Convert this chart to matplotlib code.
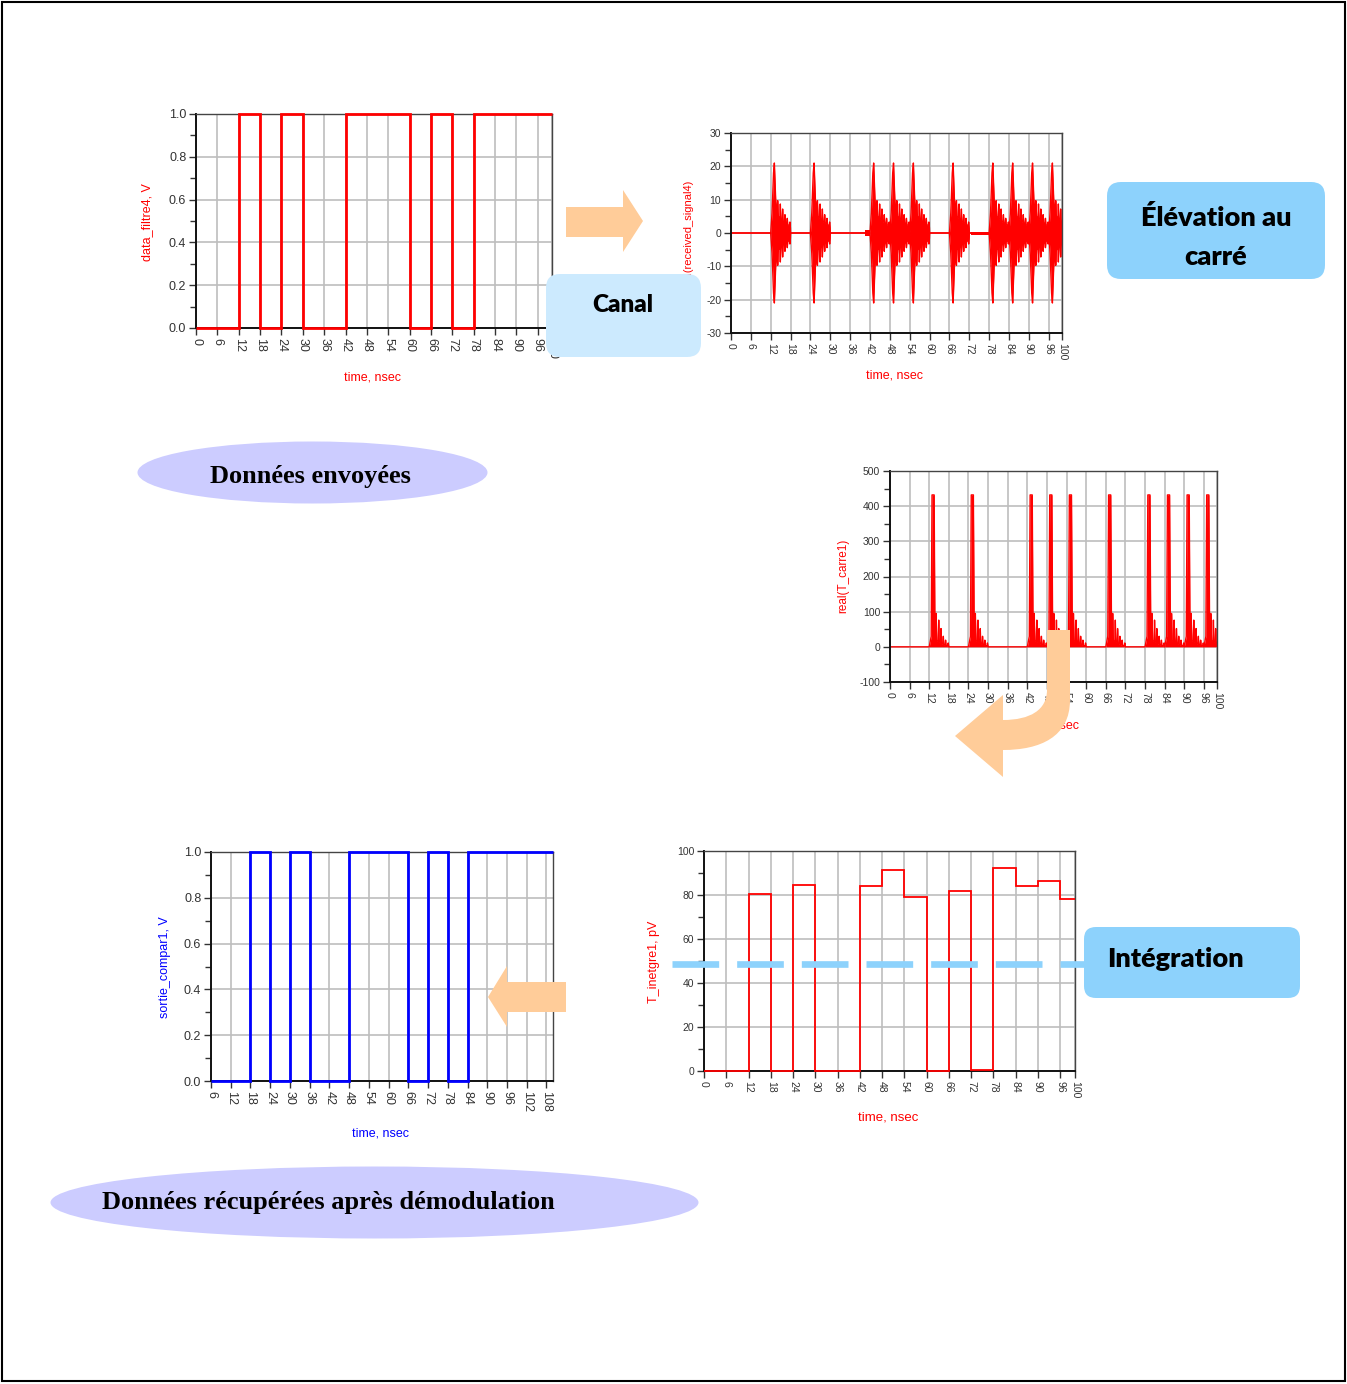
import numpy as np
import matplotlib
matplotlib.use("Agg")
import matplotlib.pyplot as plt
from matplotlib.patches import FancyBboxPatch, Ellipse, Polygon, PathPatch, Rectangle
from matplotlib.path import Path
from matplotlib.ticker import MultipleLocator

W, H = 1347, 1384
plt.rcParams['font.family'] = ['Liberation Sans', 'DejaVu Sans']
plt.rcParams['axes.unicode_minus'] = False

# --- data ---
# sent bits (data_filtre4), one bit every 6 ns
sent_edges = [0, 6, 12, 18, 24, 30, 36, 42, 48, 54, 60, 66, 72, 78, 84, 90, 96, 100]
sent_bits = [0, 0, 1, 0, 1, 0, 0, 1, 1, 1, 0, 1, 0, 1, 1, 1, 1]

# recovered bits (sortie_compar1), delayed by one bit
recov_edges = [6, 12, 18, 24, 30, 36, 42, 48, 54, 60, 66, 72, 78, 84, 90, 96, 102, 108, 110]
recov_bits = [0, 0, 1, 0, 1, 0, 0, 1, 1, 1, 0, 1, 0, 1, 1, 1, 1, 1]

# integrator output (T_inetgre1, pV)
integ_edges = [0, 6, 12, 18, 24, 30, 36, 42, 48, 54, 60, 66, 72, 78, 84, 90, 96, 100]
integ_vals = [0, 0, 80.3, 0, 84.6, 0, 0, 84.0, 91.3, 79.0, 0, 81.6, 0.3, 92.3, 84.0, 86.5, 78.2]
threshold = 48.5

# start of each RF burst (ns)
burst_starts = [12, 24, 42, 48, 54, 66, 78, 84, 90, 96]

# envelope of one received burst (offset in ns, amplitude)
rx_off = [0.0, 0.4, 0.85, 1.1, 1.5, 1.95, 2.1, 2.3, 2.75, 2.9, 3.05, 3.45, 3.6, 3.75,
          4.15, 4.3, 4.45, 4.85, 5.0, 5.15, 5.65, 5.8, 5.95, 6.0]
rx_amp = [0, 6, 18, 21, 10, 5, 9.7, 5, 4.5, 8.7, 4.2, 4, 7.2, 3.5,
          3.2, 5.5, 3, 2.8, 4.4, 2.5, 2.2, 3.3, 1.5, 0]

# one burst after squaring
sq_off = [0.0, 0.6, 0.85, 1.5, 1.75, 1.95, 2.1, 2.3, 2.75, 2.9, 3.05, 3.45, 3.6, 3.75,
          4.15, 4.3, 4.45, 4.85, 5.0, 5.15, 5.65, 5.8, 5.95, 6.0]
sq_val = [0, 30, 432, 432, 25, 20, 95, 18, 15, 76, 14, 12, 52, 10,
          8, 30, 7, 5, 19, 4, 3, 11, 2, 0]

# small leakage seen on the received signal: (start, end, amplitude)
leak_start = [40.6, 72.5]
leak_end = [42.0, 78.0]
leak_amp = [0.9, 0.45]

RED = '#FF0000'
BLUE = '#0000FF'
PEACH = '#FFCC99'
SKY = '#8DD2FC'
PALE = '#CCEAFE'
LAVENDER = '#CCCCFF'


def burst_series(offsets, values):
    t, v = [0.0], [0.0]
    for s in burst_starts:
        t += [s + o for o in offsets]
        v += list(values)
    return np.array(t), np.array(v)


fig = plt.figure(figsize=(W / 100, H / 100), dpi=100)
fig.patch.set_facecolor('white')


def px_axes(l, t, r, b):
    ax = fig.add_axes([l / W, 1 - b / H, (r - l) / W, (b - t) / H])
    ax._px = (l, t, r, b)
    return ax


def px_text(ax, x, y, s, **kw):
    l, t, r, b = ax._px
    ax.text((x - l) / (r - l), (b - y) / (b - t), s, transform=ax.transAxes,
            ha='center', va='center', **kw)


def style(ax, xlim, xticks, ylim, ymaj, ymin, fs, yfmt=None):
    ax.set_xlim(*xlim)
    ax.set_ylim(*ylim)
    ax.set_xticks(xticks)
    ax.yaxis.set_major_locator(MultipleLocator(ymaj))
    ax.yaxis.set_minor_locator(MultipleLocator(ymin))
    if yfmt:
        ax.yaxis.set_major_formatter(yfmt)
    ax.grid(True, which='major', color='#BEBEBE', lw=1.2)
    ax.set_axisbelow(True)
    ax.tick_params(which='both', direction='out', colors='#333333', width=1, labelsize=fs)
    ax.tick_params(which='major', length=5)
    ax.tick_params(which='minor', length=4)
    ax.tick_params(axis='x', labelrotation=-90, pad=2)
    ax.tick_params(axis='y', pad=2)
    for sp in ax.spines.values():
        sp.set_color('#444444')
        sp.set_linewidth(1.0)
    ax.spines['left'].set_color('#111111')
    ax.spines['bottom'].set_color('#111111')
    ax.spines['left'].set_linewidth(1.4)
    ax.spines['bottom'].set_linewidth(1.4)


ticks_100 = list(range(0, 97, 6)) + [100]

# 1) sent data
ax1 = px_axes(196, 114, 552, 328)
ax1.stairs(sent_bits, sent_edges, baseline=None, color=RED, lw=2, clip_on=False, zorder=3)
style(ax1, (0, 100), ticks_100, (0, 1), 0.2, 0.1, 9, '{x:.1f}')
px_text(ax1, 147, 222, 'data_filtre4, V', color=RED, fontsize=9, rotation=90)
px_text(ax1, 373, 378, 'time, nsec', color=RED, fontsize=9)

# 2) received signal after channel
ax2 = px_axes(731, 133, 1062, 333)
t_rx, a_rx = burst_series(rx_off, rx_amp)
ax2.fill_between(t_rx, -a_rx, a_rx, color=RED, lw=0)
ax2.plot(t_rx, a_rx, color=RED, lw=1)
ax2.plot(t_rx, -a_rx, color=RED, lw=1)
for s, e, a in zip(leak_start, leak_end, leak_amp):
    ax2.fill_between([s, e], [-a, -a], [a, a], color=RED, lw=0)
style(ax2, (0, 100), ticks_100, (-30, 30), 10, 5, 7.5)
px_text(ax2, 688, 235, 'real(received_signal4)', color=RED, fontsize=8, rotation=90)
px_text(ax2, 894, 376, 'time, nsec', color=RED, fontsize=9)

# 3) squared signal
ax3 = px_axes(890, 471, 1217, 682)
t_sq, v_sq = burst_series(sq_off, sq_val)
ax3.fill_between(t_sq, 0, v_sq, color=RED, lw=0)
ax3.plot(t_sq, v_sq, color=RED, lw=1)
style(ax3, (0, 100), ticks_100, (-100, 500), 100, 50, 7.5)
px_text(ax3, 843, 576, 'real(T_carre1)', color=RED, fontsize=8.5, rotation=90)
px_text(ax3, 1051, 726, 'time, nsec', color=RED, fontsize=9)

# 4) recovered data
ax4 = px_axes(211, 852, 553, 1081)
ax4.stairs(recov_bits, recov_edges, baseline=None, color=BLUE, lw=2, clip_on=False, zorder=3)
style(ax4, (6, 110), list(range(6, 109, 6)), (0, 1), 0.2, 0.1, 9, '{x:.1f}')
px_text(ax4, 165, 967, 'sortie_compar1, V', color=BLUE, fontsize=9, rotation=90)
px_text(ax4, 381, 1133, 'time, nsec', color=BLUE, fontsize=9)

# 5) integrator output
ax5 = px_axes(704, 851, 1075, 1071)
ax5.stairs(integ_vals, integ_edges, baseline=None, color=RED, lw=1.3, clip_on=False, zorder=3)
style(ax5, (0, 100), ticks_100, (0, 100), 20, 10, 7.5)
ax5.plot([-8.6, 102.7], [threshold, threshold], color=SKY, lw=4.8,
         linestyle=(0, (7.0, 2.7)), clip_on=False, zorder=5)
px_text(ax5, 654, 962, 'T_inetgre1, pV', color=RED, fontsize=9, rotation=90)
px_text(ax5, 888, 1117, 'time, nsec', color=RED, fontsize=9.5)

# --- overlay with boxes, arrows and captions (pixel coordinates) ---
ov = fig.add_axes([0, 0, 1, 1], zorder=10)
ov.set_xlim(0, W)
ov.set_ylim(H, 0)
ov.axis('off')

ov.add_patch(Rectangle((2, 2), W - 4, H - 5, fill=False, ec='black', lw=1.5))

# arrows
ov.add_patch(Polygon([(566, 207), (623, 207), (623, 190), (643, 221), (623, 252),
                      (623, 237), (566, 237)], closed=True, fc=PEACH, ec='none'))
ov.add_patch(Polygon([(566, 982), (507, 982), (507, 966), (488, 997), (507, 1027),
                      (507, 1012), (566, 1012)], closed=True, fc=PEACH, ec='none'))
verts = [(1047, 630), (1070, 630), (1070, 700),
         (1070, 737), (1040, 750), (1003, 750),
         (1003, 777), (955, 736), (1003, 695), (1003, 720),
         (1030, 720), (1047, 710), (1047, 690), (1047, 630)]
codes = [Path.MOVETO, Path.LINETO, Path.LINETO,
         Path.CURVE4, Path.CURVE4, Path.CURVE4,
         Path.LINETO, Path.LINETO, Path.LINETO, Path.LINETO,
         Path.CURVE4, Path.CURVE4, Path.CURVE4, Path.CLOSEPOLY]
ov.add_patch(PathPatch(Path(verts, codes), fc=PEACH, ec='none'))

# rounded boxes
box_font = ['Lato', 'DejaVu Sans']
ov.add_patch(FancyBboxPatch((546, 274), 155, 83, boxstyle='round,pad=0,rounding_size=14',
                            fc=PALE, ec='none'))
ov.text(623, 305, 'Canal', ha='center', va='center', fontsize=17.5, fontweight='heavy',
        family=box_font)
ov.add_patch(FancyBboxPatch((1107, 182), 218, 97, boxstyle='round,pad=0,rounding_size=14',
                            fc=SKY, ec='none'))
ov.text(1216, 217, 'Élévation au', ha='center', va='center', fontsize=19.5,
        fontweight='heavy', family=box_font)
ov.text(1216, 257, 'carré', ha='center', va='center', fontsize=19.5,
        fontweight='heavy', family=box_font)
ov.add_patch(FancyBboxPatch((1084, 927), 216, 71, boxstyle='round,pad=0,rounding_size=12',
                            fc=SKY, ec='none'))
ov.text(1107, 959, 'Intégration', ha='left', va='center', fontsize=19.5,
        fontweight='heavy', family=box_font)

# ellipses
serif = ['Liberation Serif', 'DejaVu Serif']
ov.add_patch(Ellipse((312.5, 472.5), 350, 62, fc=LAVENDER, ec='none'))
ov.text(310, 476, 'Données envoyées', ha='center', va='center', fontsize=19,
        fontweight='bold', family=serif)
ov.add_patch(Ellipse((374.5, 1202.5), 648, 72, fc=LAVENDER, ec='none'))
ov.text(102, 1203, 'Données récupérées après démodulation', ha='left', va='center',
        fontsize=19, fontweight='bold', family=serif)

fig.savefig('out.png', dpi=100)
